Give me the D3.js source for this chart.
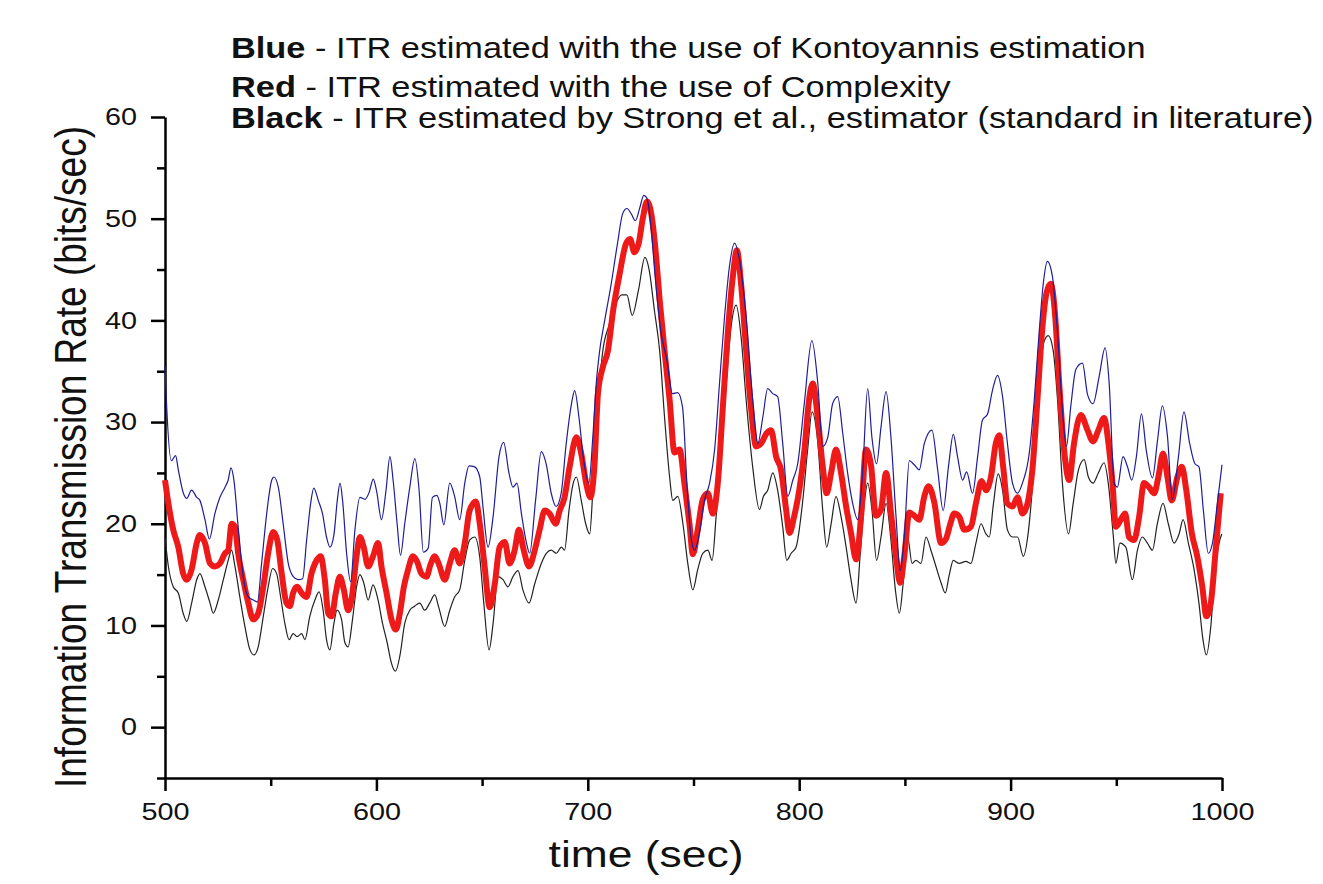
<!DOCTYPE html>
<html>
<head>
<meta charset="utf-8">
<script src="https://cdn.jsdelivr.net/npm/d3@7"></script>
<style>
  body { margin: 0; background: #fff; overflow: hidden; }
  svg { display: block; font-family: "Liberation Sans", Arial, sans-serif; }
</style>
</head>
<body>
<svg id="chart" width="1323" height="884"></svg>
<script>
// legend lines at the top of the figure
const legendLines = [
    {bold: 'Blue', rest: ' - ITR estimated with the use of Kontoyannis estimation'},
    {bold: 'Red', rest: ' - ITR estimated with the use of Complexity'},
    {bold: 'Black', rest: ' - ITR estimated by Strong et al., estimator (standard in literature)'}
];

const xMajorTicks = [500, 600, 700, 800, 900, 1000];
const xMinorTicks = [550, 650, 750, 850, 950];
const yMajorTicks = [0, 10, 20, 30, 40, 50, 60];
const yMinorTicks = [-5, 5, 15, 25, 35, 45, 55];

// [time (sec), ITR (bits/sec)]
const blueSeries = [
    [500,35.5],[500.8,31.5],[503,26.2],[505,26.7],[506.3,25.3],[508.7,23],[510.3,22.5],[512.6,23.3],
    [515,22.6],[516.5,22.3],[518.9,20.4],[521,18.5],[523.6,21],[526,22.6],[528.4,23.6],[529.9,24.3],
    [531.2,25.5],[532.6,24.3],[534.6,19.7],[537,14.8],[539.4,12.8],[541.8,12.5],[543.7,12.3],[545.7,16.1],
    [548.1,21],[550.5,24.3],[551.5,24.6],[553.6,23.6],[555.9,20],[558.3,16.1],[560.7,14.8],[563,14.5],
    [565.1,14.6],[567,18.4],[568.9,22],[570.4,23.5],[572.5,22.3],[574.5,21],[576.4,18.7],[578,17.7],
    [579.9,18.9],[581.5,22.3],[582.8,24],[584,22.3],[585.9,17.1],[587.8,14.3],[589.8,19.3],[592.2,22.6],
    [594.6,22.4],[596.6,23.1],[598.5,24.4],[600.1,23.2],[602.4,20.4],[604.5,23.2],[606.4,26.6],[607.9,24.3],
    [609.8,20],[611.4,16.9],[613.4,20],[615.8,23.6],[618.2,26.4],[620.2,23.3],[622.2,17.2],[624.5,17.6],
    [626.5,22.6],[628.6,22.8],[630,22],[631.9,19.9],[634.7,24],[637,22.7],[639.4,20.4],[641.8,24],
    [643.8,25.7],[646.5,25.6],[648.9,24.6],[650.4,21.7],[652.8,17.7],[655.2,20.7],[658,26.6],[660.2,28],
    [662.7,25],[664.6,23.6],[666.5,24],[668.6,21],[671,18.1],[672.5,17.1],[675.3,22.3],[678,27.1],
    [680.3,25.9],[682.7,23],[685,21.7],[687.4,23],[689.8,27.9],[692.2,31.7],[693.8,33.1],[695.8,30.5],
    [698,26.3],[700.5,24],[702.4,28.6],[704,33.8],[705.6,37],[708,40],[711,43.5],[714,47.5],
    [716.5,50.5],[718.5,51],[720.5,50.5],[722.5,49.8],[724.5,51],[726.5,52.3],[728,52],[730,49],
    [732,44],[734.5,39],[737.5,36],[740,32.8],[742.5,32.9],[744.8,31.5],[747,23.5],[749,18.4],
    [750.5,17.4],[752.8,19.1],[755.2,22.3],[757.6,24],[760,27.3],[762.3,33.8],[764.7,40.4],[767,45.3],
    [769.4,47.6],[771.8,45.9],[774.9,40.4],[778,32.2],[780.4,27.9],[782.8,30.5],[785.1,33.3],[787.5,32.8],
    [789.8,32.5],[792.2,27.9],[794.6,22.7],[797,24.3],[799.3,25.9],[802.4,31.8],[806,38],[808.8,33.8],
    [811.1,27.6],[813.5,28.5],[815.8,31.8],[818.2,32.5],[820.6,28.9],[822.9,25],[825.3,22],[827.7,20.4],
    [830,25],[832.4,33.3],[834.4,28.5],[836.6,25.9],[838.7,29.5],[841.1,33],[843.4,28.5],[845.8,20.7],
    [847.8,15.4],[849.7,18.7],[852.1,26.2],[854.4,25.8],[856.8,25.3],[859.2,27.9],[862.8,29.2],[865.5,25.3],
    [868.1,21.3],[870.6,25.6],[872.9,28.8],[874.9,26.6],[877.3,24.3],[879.2,25.1],[882,23],[884.4,26.6],
    [886.7,30.2],[889.1,30.8],[891.4,33.1],[893.8,34.6],[896.2,32.5],[898.5,27.9],[900.9,24],[903.3,23],
    [905.6,24],[908.8,26.9],[911.2,32.2],[913.5,38.8],[915.5,43.7],[917.4,45.8],[919.8,44.3],[922.2,38.8],
    [924.5,31.2],[926.4,27.6],[928.5,31.6],[930.9,35.2],[934,35.8],[936.4,32.7],[939,31.8],[941.9,34.5],
    [944.7,37.3],[946.6,33.9],[949,24],[950.5,23.6],[953.2,26.6],[955.3,25.6],[957.3,24.3],[959.5,26.6],
    [961.9,30.8],[964.2,27.2],[967.1,24.5],[969.5,28.2],[971.8,31.6],[974.2,28.6],[976.5,22.4],[979.4,26.6],
    [982,31],[984.7,27.9],[987.2,25.9],[989.1,25.6],[991.2,21.3],[993.5,17.1],[995.4,18],[997.8,22],
    [1000,25.8]
];

const redSeries = [
    [500,24.3],[501.6,22],[503.9,19.4],[506.3,17.7],[508.6,15.1],[510.3,14.5],[512.6,15.5],[515,18.1],
    [516.5,18.9],[518.9,18.1],[521.3,16.1],[523.6,15.8],[526,16.1],[528.4,17.1],[529.9,17.4],[531.5,20],
    [533.1,19.7],[534.6,17.1],[537,14.5],[539.4,12.2],[541.7,10.6],[544.1,11.2],[546.5,13.8],[548.8,17.1],
    [551.2,19.2],[553.1,18.4],[555.2,15.1],[557.5,12.2],[559.1,11.9],[560.6,13.2],[562.5,13.8],[564.6,13.2],
    [567,12.8],[569.3,15.1],[571.7,16.4],[573.6,16.8],[575.6,14.5],[577.2,11.2],[578.8,10.9],[580.8,13.2],
    [582.7,14.8],[584.6,13.5],[586.6,11.5],[588.2,12.5],[590.6,16.8],[592.2,18.7],[594,17.7],[596.1,15.8],
    [598.4,16.8],[600.8,18.1],[602.4,15.8],[604.8,13.2],[607.1,10.6],[609.2,9.6],[611.1,11.2],[613,13.8],
    [615,15.5],[617.3,16.8],[619.2,16.3],[621.3,15.1],[623.7,14.8],[625.6,16],[627.6,16.8],[629.6,16],
    [632.3,14.5],[634.7,16.1],[637,17.4],[639.4,16.1],[641.8,18.1],[644.1,21.3],[647,22.2],[648.9,20],
    [651.2,15.8],[653.6,11.8],[656,14.1],[658.3,17.7],[660.7,18.2],[663,16.1],[665.4,17.4],[667.4,19.4],
    [669.7,17.4],[672.2,15.8],[674.9,17.4],[677.2,19.4],[679.6,21.3],[681.9,21],[684.8,20],[686.7,21.3],
    [689,22.6],[691.4,25.6],[694.6,28.5],[696.9,26.9],[699.3,23.9],[701.2,22.6],[703.2,25.9],[704.8,32.8],
    [707.1,35.4],[709.5,37],[712,41],[715,44.5],[718,47.5],[720,48],[722,46.7],[724,47.5],
    [726,50],[728,51.7],[730,50.5],[732,47],[734,42],[736.3,37],[738.7,32.2],[741,27],
    [743.4,27.3],[745.7,24],[748.1,20],[749.7,17],[752,19.4],[754.4,22.4],[756.8,23],[759.1,21],
    [761.5,24],[763.8,31.2],[766.2,38.7],[768.6,44.3],[770.5,46.9],[772.5,43.6],[774.9,37.1],[777.3,31.2],
    [779.6,27.6],[782,27.9],[784.6,28.9],[786.7,29.2],[789.1,26.6],[791.4,25.3],[793.8,21.4],[795.4,19.1],
    [797.7,20.8],[800.1,23.4],[802.5,27.3],[804.5,31.9],[806.4,33.8],[808.7,30.6],[811.1,25.7],[813,23],
    [815.1,25],[817.4,27.3],[819.8,25],[822.2,21.7],[824.5,19.1],[826.9,16.5],[829.3,20.8],[831.6,27.3],
    [834,25.7],[836.3,20.8],[838.7,21.4],[841.1,25],[843.4,21.1],[845.8,16.8],[847.7,14.2],[849.7,16.8],
    [852.1,21.1],[854.4,20.8],[856.8,20.4],[859.2,22.7],[861.2,23.7],[863.9,22.1],[867.1,18.1],[869.4,18.5],
    [871.5,20],[873.3,21],[875.7,20.7],[878.1,19.4],[881.2,19.7],[883.6,22],[886.3,24.2],[888.3,23.3],
    [890.7,24.6],[893,27.9],[894.6,28.7],[896.5,25.6],[898.5,22],[900.9,21.7],[903.3,22.6],[905.6,21],
    [908,22],[910.3,25.3],[912.7,32.2],[914.8,38.7],[917,42.7],[919,43.6],[921.1,40.4],[923,33.8],
    [925.3,27.3],[927.7,24.3],[930,27.9],[933.2,30.7],[936.4,29.2],[939,28.1],[941.5,29.2],[944.2,30.4],
    [946.3,27.9],[948.2,24],[949.8,19.7],[952.1,20.4],[954.2,21],[956,18.7],[958.4,18.4],[960.8,20.7],
    [963.1,24],[965.5,23.6],[967.9,23],[969.9,24.6],[972.1,26.9],[974.2,24.6],[976.2,22.3],[978.9,24.6],
    [981,25.6],[983.1,23.3],[985.7,19.1],[988.3,16.8],[990.7,13.8],[992.6,10.9],[994.7,12.2],[997,17.4],
    [999.4,23]
];

const blackSeries = [
    [500,18.7],[501.6,15.8],[503.9,13.8],[506.3,13.2],[508.6,11.2],[510.3,10.4],[512.6,12.2],[515,14.5],
    [516.5,15.1],[518.9,13.8],[521.3,12.2],[522.8,11.2],[525.2,12.5],[527.6,14.5],[529.9,16.4],[531.5,17.4],
    [533.1,15.8],[535.4,12.8],[537.8,9.9],[540.2,7.6],[542.1,7.1],[544.1,7.9],[546.5,10.9],[548.8,13.8],
    [550.9,15.6],[552.8,15.1],[554.7,12.8],[556.7,10.2],[558.7,8.6],[560.6,9.2],[562.5,8.9],[564.6,9.2],
    [566.2,8.6],[568.5,10.9],[570.9,12.5],[572.9,13.3],[574.8,11.5],[576.4,8.6],[578,7.6],[579.9,10.2],
    [581.4,11.5],[583.5,10.6],[585.1,8.3],[586.6,7.9],[588.7,10.6],[590.6,13.8],[592.2,15],[594,14.2],
    [596.1,12.5],[598.4,14],[600.8,12.5],[602.9,10.2],[605.1,8.3],[607.1,6.3],[609,5.5],[611.1,7],
    [613.4,10.2],[615.8,11.5],[618.1,11.9],[620.5,12.2],[622.9,11.5],[625.2,12.2],[627.6,13],[629.6,11.7],
    [632.3,9.9],[634.7,11.5],[637,12.8],[639.4,13.5],[641.8,16.4],[644.1,18.4],[646.5,18.7],[648.9,16.7],
    [650.8,12.2],[653.3,7.6],[655.2,10.2],[657.5,14.8],[659.9,14.5],[662.2,13.8],[664.6,14.8],[667,15.4],
    [669.3,13.5],[672.2,12.2],[674.9,14.1],[678,16.1],[680.4,17.1],[682.7,17.4],[685.1,17.1],[687.5,17.7],
    [689,17.4],[691.1,21.3],[693,23.9],[694.6,24.6],[696.9,22.3],[699,20],[700.9,19],[702.4,23.3],
    [704,28.9],[705.6,33.8],[707.1,37],[710,39.5],[713,41.5],[716,42.5],[718.5,42.5],[721,40.5],
    [724,43],[727,46.2],[729,45],[731.5,41],[734,37],[736.3,30.5],[738.7,24.6],[740.2,22.3],
    [742.6,22.7],[745,20],[747.3,16.1],[749.7,13.5],[752,15.5],[754.4,17.1],[756.8,17.4],[758.8,16.4],
    [760.7,20.7],[763.1,27.3],[765.5,33.8],[767.8,39.4],[770.2,41.5],[772.5,38.4],[774.9,32.2],[778,25.6],
    [781.2,21.4],[783.1,22.7],[785.1,23.3],[787.5,25],[789.8,23.3],[792.2,19.7],[794.1,16.4],[796.2,17.1],
    [798.5,17.7],[801.7,22.3],[804,27.3],[806.1,31],[808.7,28.2],[811.1,21.4],[813,17.7],[815.1,20],
    [817.4,22.7],[819.8,20.7],[822.2,17.7],[824.5,14.5],[826.9,12.2],[828.8,16.8],[830.8,22],[832.4,24],
    [834.4,21.4],[836.6,16.4],[838.7,18.7],[841.1,22],[843.4,18.4],[845.5,13.5],[847.4,11.2],[849.2,14.2],
    [851.3,18.7],[853.4,16.1],[855.2,16.4],[857.6,16.1],[860,18.7],[862.3,17.4],[864.7,15.8],[867.1,14.2],
    [869.1,13.2],[871,15],[872.9,16.4],[875.7,16.1],[878.9,16.3],[881.2,16.1],[883.6,18.1],[886,20],
    [888.3,19],[889.9,18.7],[891.9,22],[894.1,24.9],[896.2,23.3],[898.5,19.4],[900.9,18.7],[903.3,18.7],
    [906,16.8],[908.5,19.4],[910.7,24.6],[913.2,32.2],[915.5,37.7],[917.8,38.5],[920.1,37.1],[922.2,32.2],
    [924.5,24],[927.4,19],[929.6,22],[932.1,25.3],[934.8,26.3],[936.8,24.6],[939,24],[941.5,25],
    [944.2,26],[946.2,24],[948.5,19],[949.8,16.1],[951.7,18.1],[954.5,17.7],[957.6,14.5],[960,17.4],
    [962.3,18.7],[964.7,18.1],[967.1,17.4],[969.4,20],[972.1,22],[974.6,20],[977.3,18.1],[979.7,19],
    [981.6,20.4],[984.1,18.1],[986.8,15.5],[989.1,12.2],[991,8.6],[992.6,7.1],[994.7,9.9],[996.7,15.5],
    [998.6,18.1],[999.9,19]
];

const svg = d3.select('#chart');
const stretch = 1.2; // the original figure's lettering is a little wide

const x = d3.scaleLinear().domain([500, 1000]).range([165, 1222]);
const y = d3.scaleLinear().domain([-5, 60]).range([778, 117]);

// axes: major ticks with labels, minor ticks without
svg.append('g').attr('transform', 'translate(0,778)')
    .call(d3.axisBottom(x).tickValues(xMinorTicks).tickFormat('').tickSize(8).tickSizeOuter(0))
    .call(g => g.select('.domain').remove());
svg.append('g').attr('transform', 'translate(0,778)')
    .call(d3.axisBottom(x).tickValues(xMajorTicks).tickFormat(d3.format('d')).tickSize(13).tickPadding(12).tickSizeOuter(0))
    .call(g => g.selectAll('text')
        .attr('font-size', 24).attr('fill', '#111')
        .attr('font-family', '"Liberation Sans", Arial, sans-serif')
        .attr('transform', `scale(${stretch},1)`));

svg.append('g').attr('transform', 'translate(165,0)')
    .call(d3.axisLeft(y).tickValues(yMinorTicks).tickFormat('').tickSize(8).tickSizeOuter(0))
    .call(g => g.select('.domain').remove());
svg.append('g').attr('transform', 'translate(165,0)')
    .call(d3.axisLeft(y).tickValues(yMajorTicks).tickFormat(d3.format('d')).tickSize(14).tickSizeOuter(0))
    .call(g => g.selectAll('text')
        .attr('font-size', 24).attr('fill', '#111')
        .attr('font-family', '"Liberation Sans", Arial, sans-serif')
        .attr('x', -28 / stretch)
        .attr('transform', `scale(${stretch},1)`));

svg.selectAll('.domain').attr('stroke', '#000').attr('stroke-width', 2.5);
svg.selectAll('.tick line').attr('stroke', '#000').attr('stroke-width', 2.5);

// series
const line = d3.line()
    .x(d => x(d[0]))
    .y(d => y(d[1]))
    .curve(d3.curveMonotoneX);

svg.append('path').datum(blackSeries)
    .attr('fill', 'none').attr('stroke', '#222').attr('stroke-width', 1.2)
    .attr('d', line);

svg.append('path').datum(redSeries)
    .attr('fill', 'none').attr('stroke', '#ee1a1a').attr('stroke-width', 6)
    .attr('stroke-linejoin', 'round')
    .attr('d', line);

svg.append('path').datum(blueSeries)
    .attr('fill', 'none').attr('stroke', '#1e1e96').attr('stroke-width', 1.2)
    .attr('d', line);

// axis titles
svg.append('text')
    .attr('transform', `translate(86,457) scale(${stretch},1) rotate(-90)`)
    .attr('text-anchor', 'middle')
    .attr('font-size', 37)
    .attr('fill', '#111')
    .text('Information Transmission Rate (bits/sec)');

svg.append('text')
    .attr('transform', `translate(646,867) scale(${stretch},1)`)
    .attr('text-anchor', 'middle')
    .attr('font-size', 37)
    .attr('fill', '#111')
    .text('time (sec)');

// legend text, squeezed just enough that the longest line stays inside
const legendText = svg.append('g').selectAll('text')
    .data(legendLines)
    .enter()
    .append('text')
    .attr('transform', (d, i) => `translate(231,${[58, 97, 128][i]}) scale(1.185,1)`)
    .attr('font-size', 29)
    .attr('fill', '#111');
legendText.append('tspan').attr('font-weight', 'bold').text(d => d.bold);
legendText.append('tspan').text(d => d.rest);
</script>
</body>
</html>
